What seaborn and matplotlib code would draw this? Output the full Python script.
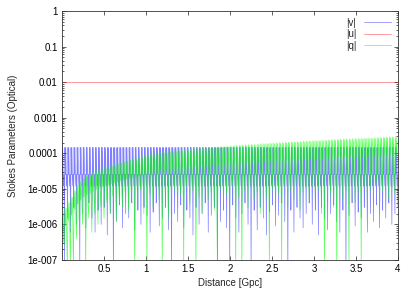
import numpy as np
import pandas as pd
import matplotlib
matplotlib.use("Agg")
import matplotlib.pyplot as plt
import seaborn as sns
from matplotlib.ticker import FixedLocator, LogLocator, NullFormatter

# distance axis (Gpc), oscillation cycles along it
x_range = (0.0, 4.0)

# |u| is flat
u_level = 0.01

# |v|: flat top, dense band down to a base level, one dip per cycle
v_peak = 1.45e-4
v_base = 2.5e-5
v_low = 1.2e-5
v_dip = [
    5e-8, 1.5e-6, 6e-7, 3e-6, 1e-6, 5e-8, 2e-6, 8e-7, 4e-6, 1.5e-6,
    6e-7, 2.5e-6, 1e-6, 3e-6, 5e-7, 2e-6, 5e-8, 1.2e-6, 3.5e-6, 8e-7,
    2e-6, 1.5e-6, 4e-6, 7e-7, 2.5e-6, 1e-6, 3e-6, 1.8e-6, 6e-7, 2.2e-6,
    4e-6, 9e-7, 1.5e-6, 3e-6, 7e-7, 5e-8, 2e-6, 1.2e-6, 3.5e-6, 8e-7,
    2.5e-6, 1.5e-6, 5e-7, 3e-6, 1e-6, 2e-6, 4e-6, 6e-7, 1.8e-6, 3e-6,
    5e-8, 1.2e-6, 2.5e-6, 8e-7, 5e-8, 3.5e-6, 1.5e-6, 6e-7, 2e-6, 4e-6,
    1e-6, 5e-8, 2.5e-6, 7e-7, 3e-6, 1.5e-6, 5e-7, 2.2e-6, 3.5e-6, 9e-7,
    1.8e-6, 4e-6, 1.2e-6, 5e-8, 2.5e-6, 6e-7, 3e-6, 1.5e-6, 8e-7, 2e-6,
    4e-6, 1e-6, 2.5e-6, 5e-7, 3e-6, 1.5e-6, 7e-7, 2e-6, 3.5e-6, 1.2e-6,
    6e-7, 2.5e-6, 5e-8, 1.8e-6, 4e-6, 9e-7, 2.2e-6, 1.5e-6, 3e-6, 6e-7,
    2e-6, 1.2e-6, 3.5e-6, 8e-7, 2.5e-6, 1.5e-6, 4e-6, 1e-6, 2e-6, 3e-6,
]

# |q|: growing upper envelope per cycle, shape within a cycle, one dip per cycle
q_peak = [
    2.2e-6, 3.0e-6, 4.2e-6, 6.0e-6, 9.0e-6, 1.25e-5, 1.6e-5, 1.95e-5, 2.25e-5, 2.5e-5,
    2.8e-5, 3.15e-5, 3.45e-5, 3.7e-5, 3.95e-5, 4.25e-5, 4.55e-5, 4.85e-5, 5.15e-5, 5.5e-5,
    5.85e-5, 6.2e-5, 6.55e-5, 6.9e-5, 7.3e-5, 7.7e-5, 8.1e-5, 8.8e-5, 9.2e-5, 9.5e-5,
    9.8e-5, 1.00e-4, 1.03e-4, 1.06e-4, 1.09e-4, 1.12e-4, 1.15e-4, 1.17e-4, 1.19e-4, 1.22e-4,
    1.24e-4, 1.26e-4, 1.29e-4, 1.31e-4, 1.34e-4, 1.36e-4, 1.39e-4, 1.41e-4, 1.44e-4, 1.46e-4,
    1.49e-4, 1.51e-4, 1.53e-4, 1.56e-4, 1.58e-4, 1.60e-4, 1.62e-4, 1.65e-4, 1.67e-4, 1.70e-4,
    1.72e-4, 1.74e-4, 1.77e-4, 1.79e-4, 1.81e-4, 1.84e-4, 1.86e-4, 1.89e-4, 1.91e-4, 1.93e-4,
    1.96e-4, 1.98e-4, 2.01e-4, 2.03e-4, 2.05e-4, 2.08e-4, 2.10e-4, 2.13e-4, 2.15e-4, 2.17e-4,
    2.20e-4, 2.22e-4, 2.25e-4, 2.27e-4, 2.29e-4, 2.32e-4, 2.34e-4, 2.37e-4, 2.39e-4, 2.41e-4,
    2.44e-4, 2.46e-4, 2.49e-4, 2.51e-4, 2.53e-4, 2.56e-4, 2.58e-4, 2.61e-4, 2.63e-4, 2.65e-4,
    2.68e-4, 2.70e-4, 2.73e-4, 2.75e-4, 2.77e-4, 2.80e-4, 2.82e-4, 2.85e-4, 2.87e-4, 2.90e-4,
]
q_shape = [1.0, 0.3, 0.95, 0.15]
q_dip = [
    3e-7, 5e-8, 5e-8, 5e-8, 4e-7, 8e-7, 1e-6, 5e-8, 1.5e-6, 6e-7,
    2e-6, 1e-6, 3e-6, 1.5e-6, 4e-6, 2e-6, 6e-6, 1.2e-6, 5e-6, 3e-6,
    8e-6, 2.5e-6, 6e-6, 5e-8, 4e-6, 1e-5, 2e-6, 5e-8, 7e-6, 3e-6,
    1.2e-5, 5e-6, 5e-8, 8e-6, 1.5e-6, 6e-6, 1e-5, 3e-6, 7e-6, 5e-8,
    1.2e-5, 4e-6, 9e-6, 5e-8, 6e-6, 2e-6, 1.1e-5, 5e-6, 8e-6, 2.5e-6,
    5e-8, 1e-5, 4e-6, 7e-6, 1.5e-6, 1.2e-5, 5e-8, 6e-6, 5e-8, 9e-6,
    3e-6, 1.1e-5, 5e-6, 8e-6, 2e-6, 1.3e-5, 6e-6, 5e-8, 1e-5, 4e-6,
    7e-6, 5e-8, 1.2e-5, 3e-6, 9e-6, 5e-6, 1.4e-5, 2.5e-6, 8e-6, 1.1e-5,
    4e-6, 1.3e-5, 6e-6, 1e-5, 2e-6, 5e-8, 1.2e-5, 7e-6, 3e-6, 5e-8,
    1.1e-5, 5e-6, 9e-6, 5e-8, 1.4e-5, 4e-6, 8e-6, 5e-8, 1.2e-5, 3e-6,
    1e-5, 6e-6, 1.5e-5, 2.5e-6, 9e-6, 1.3e-5, 5e-6, 1.1e-5, 7e-6, 1.4e-5,
]

x_ticks = [0.5, 1, 1.5, 2, 2.5, 3, 3.5, 4]
x_tick_labels = ["0.5", "1", "1.5", "2", "2.5", "3", "3.5", "4"]
y_ticks = [1e-7, 1e-6, 1e-5, 1e-4, 1e-3, 1e-2, 1e-1, 1]
y_tick_labels = ["1e-007", "1e-006", "1e-005", "0.0001", "0.001", "0.01", "0.1", "1"]

# build the point sequences
v_vals = []
for d in v_dip:
    v_vals += [v_peak, v_base, v_peak, v_base, v_low, v_base, d]
v_df = pd.DataFrame({"x": np.linspace(*x_range, len(v_vals)), "y": v_vals})

q_vals = []
for p, d in zip(q_peak, q_dip):
    q_vals += [p * s for s in q_shape] + [d]
q_df = pd.DataFrame({"x": np.linspace(*x_range, len(q_vals)), "y": q_vals})

u_df = pd.DataFrame({"x": list(x_range), "y": [u_level, u_level]})

sns.set_style("ticks")
plt.rcParams["font.family"] = ["Liberation Sans", "DejaVu Sans"]
plt.rcParams["font.size"] = 7

fig = plt.figure(figsize=(4.15, 2.91), dpi=100)
ax = fig.add_axes([0.149, 0.107, 0.81, 0.855])

sns.lineplot(data=v_df, x="x", y="y", ax=ax, color="#0000ff", lw=0.5, alpha=0.5,
             estimator=None, sort=False, label="|v|")
sns.lineplot(data=u_df, x="x", y="y", ax=ax, color="#ff0000", lw=0.6, alpha=0.45,
             estimator=None, sort=False, label="|u|")
sns.lineplot(data=q_df, x="x", y="y", ax=ax, color="#00ff00", lw=0.5, alpha=0.65,
             estimator=None, sort=False, label="|q|")

ax.set_yscale("log")
ax.set_xlim(*x_range)
ax.set_ylim(1e-7, 1)
ax.xaxis.set_major_locator(FixedLocator(x_ticks))
ax.set_xticklabels(x_tick_labels)
ax.yaxis.set_major_locator(FixedLocator(y_ticks))
ax.set_yticklabels(y_tick_labels)
ax.yaxis.set_minor_locator(LogLocator(base=10, subs=np.arange(2, 10)))
ax.yaxis.set_minor_formatter(NullFormatter())
ax.tick_params(which="both", direction="in", top=True, right=True, width=0.5,
               colors="#222222", labelcolor="black", pad=3)
ax.tick_params(which="major", length=3)
ax.tick_params(which="minor", length=1.5)
for s in ax.spines.values():
    s.set_linewidth(0.6)
    s.set_color("#333333")

ax.set_xlabel("Distance [Gpc]", labelpad=3)
ax.set_ylabel("Stokes Parameters (Optical)", labelpad=7)

ax.legend(loc="upper right", frameon=False, markerfirst=False, handlelength=2.8,
          handletextpad=0.8, labelspacing=0.15, borderaxespad=0.3, fontsize=7)

fig.savefig("out.png", dpi=100)
